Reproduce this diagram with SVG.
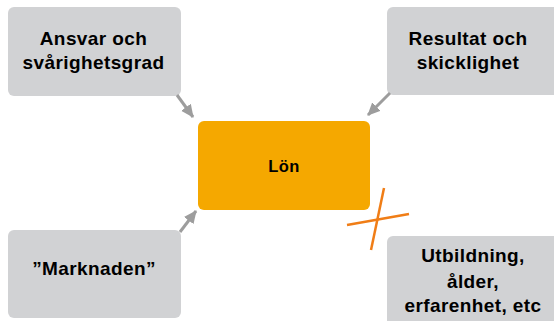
<svg xmlns="http://www.w3.org/2000/svg" width="554" height="321" viewBox="0 0 554 321">
  <defs>
    <style>
      .factor { fill: #d1d2d4; }
      .core { fill: #f5a800; }
      .label { font-family: "Liberation Sans", Arial, Helvetica, sans-serif; font-weight: bold; font-size: 19px; fill: #000; text-anchor: middle; letter-spacing: 0.4px; }
      .arrow { stroke: #9d9d9d; stroke-width: 3; fill: none; marker-end: url(#head); }
      .cross { stroke: #f07d16; stroke-width: 2.5; fill: none; }
    </style>
    <marker id="head" markerUnits="userSpaceOnUse" markerWidth="14" markerHeight="14" viewBox="0 0 14 14" refX="12" refY="7" orient="auto">
      <path d="M0,1 L13,7 L0,13 Z" fill="#9d9d9d"/>
    </marker>
  </defs>

  <g id="ansvar">
    <rect class="factor" x="8" y="7" width="173" height="89" rx="6"/>
    <text class="label" x="93.5" y="45">Ansvar och</text>
    <text class="label" x="93.5" y="68.5">svårighetsgrad</text>
  </g>

  <g id="resultat">
    <rect class="factor" x="387" y="7" width="175" height="88" rx="6"/>
    <text class="label" x="468" y="45">Resultat och</text>
    <text class="label" x="468" y="68.5">skicklighet</text>
  </g>

  <g id="lon">
    <rect class="core" x="198" y="121" width="172" height="89" rx="6"/>
    <text class="label" x="284" y="171.5" style="font-size:16.5px">Lön</text>
  </g>

  <g id="marknaden">
    <rect class="factor" x="8" y="230" width="173" height="88" rx="6"/>
    <text class="label" x="94" y="275">”Marknaden”</text>
  </g>

  <g id="utbildning">
    <rect class="factor" x="387" y="236" width="175" height="95" rx="6"/>
    <text class="label" x="473" y="262">Utbildning,</text>
    <text class="label" x="473" y="287.5">ålder,</text>
    <text class="label" x="473" y="311.5">erfarenhet, etc</text>
  </g>

  <g id="connectors">
    <line class="arrow" x1="177" y1="95" x2="193" y2="117"/>
    <line class="arrow" x1="390" y1="93" x2="368" y2="115"/>
    <line class="arrow" x1="180" y1="232" x2="196" y2="211"/>
    <line class="cross" x1="347" y1="225" x2="409" y2="214"/>
    <line class="cross" x1="384" y1="188" x2="371" y2="250"/>
  </g>
</svg>
